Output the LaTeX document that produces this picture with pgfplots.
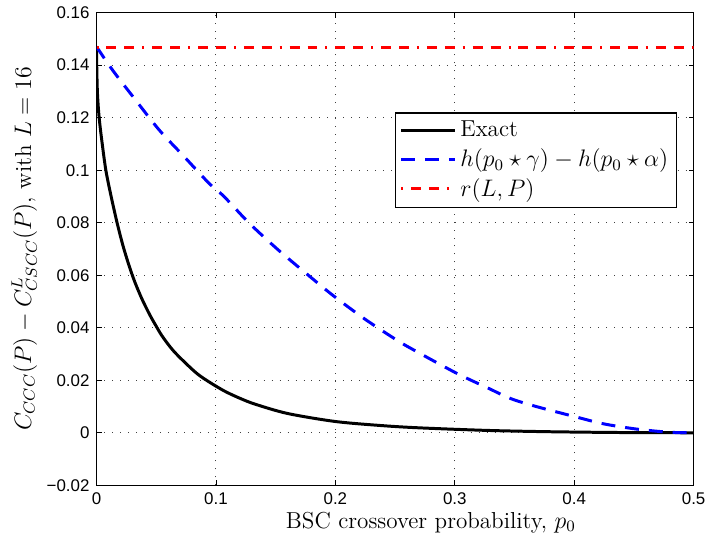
\documentclass[border=0pt]{standalone}
\usepackage{fontspec}
\usepackage{pgfplots}
\pgfplotsset{compat=1.18}
\newfontfamily\tickfont{Liberation Sans}
\begin{document}
\begin{tikzpicture}
\begin{axis}[
  name=ax,
  scale only axis,
  width=300pt, height=237.5pt,
  xmin=0, xmax=0.5, ymin=-0.02, ymax=0.16,
  xtick={0,0.1,0.2,0.3,0.4,0.5},
  xticklabels={0,0.1,0.2,0.3,0.4,0.5},
  ytick={-0.02,0,0.02,0.04,0.06,0.08,0.1,0.12,0.14,0.16},
  yticklabels={−0.02,0,0.02,0.04,0.06,0.08,0.1,0.12,0.14,0.16},
  tick label style={font=\tickfont\fontsize{8.5}{10}\selectfont},
  tick align=inside,
  major tick length=2.5pt,
  tick style={black, line width=0.4pt},
  grid=major,
  grid style={black!75, line width=0.45pt, dash pattern=on 0.5pt off 3.5pt},
  axis line style={line width=0.6pt},
  xlabel={BSC crossover probability, $p_0$},
  ylabel={$C_{CCC}(P)-C^{L}_{CSCC}(P)$, with $L=16$},
  label style={font=\fontsize{11.6}{13}\selectfont},
  xlabel style={yshift=3pt, xshift=18pt},
  ylabel style={yshift=-2pt},
  legend style={at={(0.972,0.789)}, anchor=north east, draw=black, line width=0.6pt,
    font=\fontsize{11.6}{13}\selectfont, cells={anchor=west}, inner sep=2pt, row sep=0.5pt},
  legend image code/.code={\draw[#1] (0pt,0pt) -- (27pt,0pt);},
]
\addplot[black, line width=1.5pt, smooth, tension=0.5] coordinates {
(0,0.147) (0.0002,0.139) (0.0008,0.129) (0.0022,0.120) (0.0045,0.111)
(0.0078,0.100) (0.012,0.0905) (0.0172,0.0800) (0.022,0.0715) (0.027,0.0640)
(0.032,0.0575) (0.038,0.0510) (0.0445,0.0450) (0.0492,0.0412) (0.055,0.0368)
(0.065,0.0309) (0.0817,0.0235) (0.0914,0.0202) (0.1067,0.0160) (0.12,0.01315)
(0.133,0.01087) (0.16,0.00735) (0.2,0.0043) (0.24,0.0027) (0.272,0.00185)
(0.3275,0.0009) (0.38,0.0004) (0.44,0.0001) (0.5,0)
};
\addlegendentry{Exact}
\addplot[blue, line width=1.5pt, dash pattern=on 7pt off 5pt, smooth] coordinates {
(0,0.147) (0.0136,0.138) (0.0317,0.1273) (0.0525,0.1153) (0.0733,0.1052)
(0.094,0.0951) (0.1067,0.090) (0.1275,0.080) (0.151,0.0701) (0.1747,0.061)
(0.1983,0.0522) (0.2247,0.0433) (0.2497,0.0358) (0.263,0.0322) (0.301,0.0228)
(0.3275,0.0171) (0.347,0.013) (0.369,0.0099) (0.401,0.0061) (0.4247,0.0034)
(0.4525,0.0014) (0.48,0.0002) (0.5,0)
};
\addlegendentry{$h(p_0\star\gamma)-h(p_0\star\alpha)$}
\addplot[red, line width=1.5pt, dash pattern=on 1pt off 4pt on 5pt off 4pt on 5pt off 4pt] coordinates {
(0,0.1467) (0.5,0.1467)
};
\addlegendentry{$r(L,P)$}
\end{axis}
\path (ax.south west) ++(-48.5pt,-29pt) rectangle ++(356pt,272.5pt);
\end{tikzpicture}
\end{document}
